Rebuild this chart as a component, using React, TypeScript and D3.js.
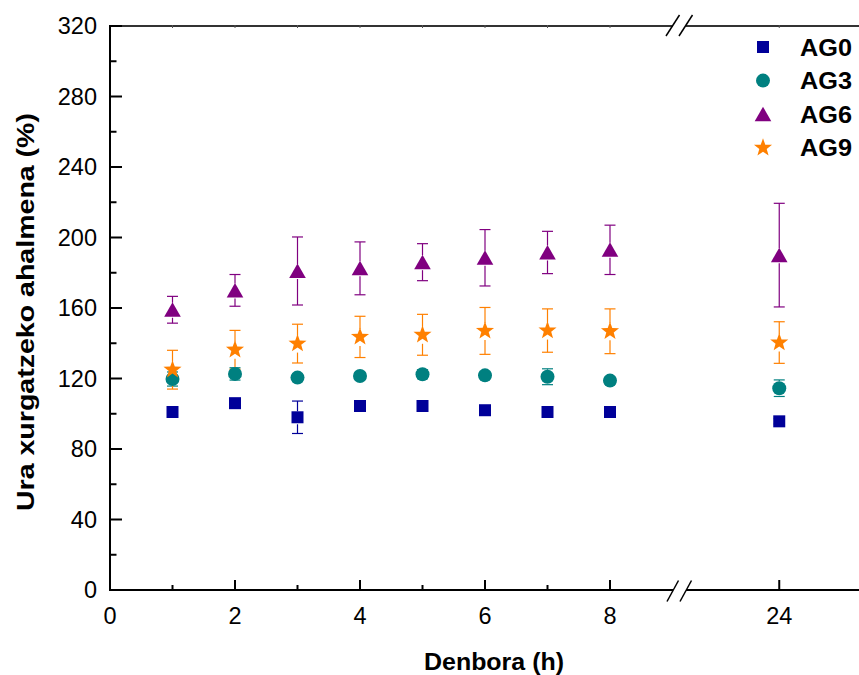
import React from "react";
import * as d3 from "d3";

const times = [1, 2, 3, 4, 5, 6, 7, 8, 24];
const seriesNames = ["AG0", "AG3", "AG6", "AG9"];
const ag0 = [101, 106, 98, 104.4, 104.4, 102, 101, 101, 95.7];
const ag0Err = [1.5, 1.5, 9.2, 1.5, 1.5, 1.5, 1.5, 1.5, 1.5];
const ag3 = [119.7, 122.6, 120.5, 121.4, 122.4, 121.8, 121, 118.8, 114.5];
const ag3Err = [4, 3.5, 2, 2, 2.5, 2, 4.5, 2, 4.7];
const ag6 = [159, 170, 181, 182.5, 186, 188.5, 191.5, 193, 190];
const ag6Err = [7.6, 9, 19.3, 15, 10.5, 16, 12, 14, 29.4];
const ag9 = [125, 136.3, 139.8, 143.6, 144.8, 147, 147.2, 146.8, 140.4];
const ag9Err = [11, 11, 11, 11.7, 11.6, 13.3, 12.3, 12.7, 11.8];
const colors = ["#000099", "#008080", "#800080", "#FF8000"];
const yTicks = [0, 40, 80, 120, 160, 200, 240, 280, 320];
const yMinor = [20, 60, 100, 140, 180, 220, 260, 300];
const xTicksLeft = [0, 2, 4, 6, 8];
const xMinorLeft = [1, 3, 5, 7];
const xTicksRight = [24];

const y = d3.scaleLinear().domain([0, 320]).range([590, 26]);
const xL = d3.scaleLinear().domain([0, 9]).range([110, 672.5]);
const xR = d3.scaleLinear().domain([22.5, 25.26]).range([685.5, 858]);
const xPos = (t: number) => (t <= 9 ? xL(t) : xR(t));

function markerPath(kind: number): string {
  if (kind === 0) {
    const s = 6;
    return `M${-s},${-s}H${s}V${s}H${-s}Z`;
  }
  if (kind === 1) {
    const r = 7;
    return `M${r},0A${r},${r} 0 1,1 ${-r},0A${r},${r} 0 1,1 ${r},0Z`;
  }
  if (kind === 2) {
    return `M0,-7.5L8.3,7L-8.3,7Z`;
  }
  const pts: string[] = [];
  const ro = 9.5, ri = 3.9;
  for (let i = 0; i < 10; i++) {
    const a = -Math.PI / 2 + (i * Math.PI) / 5;
    const r = i % 2 === 0 ? ro : ri;
    pts.push(`${(r * Math.cos(a)).toFixed(2)},${(r * Math.sin(a)).toFixed(2)}`);
  }
  return "M" + pts.join("L") + "Z";
}

const data = [
  { v: ag0, e: ag0Err },
  { v: ag3, e: ag3Err },
  { v: ag6, e: ag6Err },
  { v: ag9, e: ag9Err },
];

export default function App() {
  const font = "Arial, 'Liberation Sans', sans-serif";
  const half = [6, 7, 7, 8];
  return (
    <svg width={859} height={675} style={{ position: "absolute", left: 0, top: 0, background: "#fff" }}>
      <rect x={0} y={0} width={859} height={675} fill="#fff" />
      {/* top axis */}
      <line x1={110} x2={673} y1={26} y2={26} stroke="#333" strokeWidth={2} />
      <line x1={686} x2={859} y1={26} y2={26} stroke="#333" strokeWidth={2} />
      {[1, 2, 3, 4, 5, 6, 7, 8].map((t) => (
        <line key={"tt" + t} x1={xL(t)} x2={xL(t)} y1={25} y2={28} stroke="#555" strokeWidth={1} />
      ))}
      <line x1={xR(24)} x2={xR(24)} y1={25} y2={28} stroke="#555" strokeWidth={1} />
      {/* bottom axis */}
      <line x1={109} x2={673} y1={590} y2={590} stroke="#000" strokeWidth={2} />
      <line x1={686} x2={859} y1={590} y2={590} stroke="#000" strokeWidth={2} />
      {/* left axis */}
      <line x1={110} x2={110} y1={25} y2={591} stroke="#000" strokeWidth={2} />
      {/* break marks */}
      {[0, 13].map((dx) => (
        <g key={"bb" + dx}>
          <line x1={667 + dx} y1={601.5} x2={678.5 + dx} y2={580.5} stroke="#000" strokeWidth={1.5} />
          <line x1={666 + dx} y1={36} x2={679.5 + dx} y2={15} stroke="#000" strokeWidth={1.5} />
        </g>
      ))}
      {/* y ticks */}
      {yTicks.map((v) => (
        <g key={"yt" + v}>
          <line x1={110} x2={122} y1={y(v)} y2={y(v)} stroke="#000" strokeWidth={2} />
          <text x={97} y={y(v) + 8} textAnchor="end" fontSize={23.5} fontFamily={font} fill="#000">
            {v}
          </text>
        </g>
      ))}
      {yMinor.map((v) => (
        <line key={"ym" + v} x1={110} x2={116.5} y1={y(v)} y2={y(v)} stroke="#000" strokeWidth={2} />
      ))}
      {/* x ticks */}
      {xTicksLeft.map((t) => (
        <g key={"xt" + t}>
          <line x1={xL(t)} x2={xL(t)} y1={590} y2={580} stroke="#000" strokeWidth={2} />
          <text x={xL(t)} y={623.5} textAnchor="middle" fontSize={23.5} fontFamily={font} fill="#000">
            {t}
          </text>
        </g>
      ))}
      {xMinorLeft.map((t) => (
        <line key={"xm" + t} x1={xL(t)} x2={xL(t)} y1={590} y2={585} stroke="#000" strokeWidth={2} />
      ))}
      {xTicksRight.map((t) => (
        <g key={"xr" + t}>
          <line x1={xR(t)} x2={xR(t)} y1={590} y2={580} stroke="#000" strokeWidth={2} />
          <text x={xR(t)} y={623.5} textAnchor="middle" fontSize={23.5} fontFamily={font} fill="#000">
            {t}
          </text>
        </g>
      ))}
      {/* axis titles */}
      <text
        x={494}
        y={670}
        textAnchor="middle"
        fontSize={24}
        fontWeight="bold"
        fontFamily={font}
        fill="#000"
        textLength={140}
        lengthAdjust="spacingAndGlyphs"
      >
        Denbora (h)
      </text>
      <text
        transform="translate(34,312) rotate(-90)"
        textAnchor="middle"
        fontSize={24}
        fontWeight="bold"
        fontFamily={font}
        fill="#000"
        textLength={398}
        lengthAdjust="spacingAndGlyphs"
      >
        Ura xurgatzeko ahalmena (%)
      </text>
      {/* error bars */}
      {data.map((s, si) => (
        <g key={"eb" + si} stroke={colors[si]} strokeWidth={1.2} fill="none">
          {times.map((t, i) => {
            const cx = xPos(t);
            const cy = y(s.v[i]);
            const top = y(s.v[i] + s.e[i]);
            const bot = y(s.v[i] - s.e[i]);
            const h = half[si];
            return (
              <g key={i}>
                {cy - h > top && <line x1={cx} x2={cx} y1={top} y2={cy - h} />}
                {cy + h + 1 < bot && <line x1={cx} x2={cx} y1={cy + h + 1} y2={bot} />}
                <line x1={cx - 5.5} x2={cx + 5.5} y1={top} y2={top} />
                <line x1={cx - 5.5} x2={cx + 5.5} y1={bot} y2={bot} />
              </g>
            );
          })}
        </g>
      ))}
      {/* markers */}
      {data.map((s, si) => (
        <g key={"mk" + si} fill={colors[si]}>
          {times.map((t, i) => (
            <path key={i} d={markerPath(si)} transform={`translate(${xPos(t)},${y(s.v[i])})`} />
          ))}
        </g>
      ))}
      {/* legend */}
      {seriesNames.map((n, i) => {
        const ly = 47 + i * 33.6;
        return (
          <g key={"lg" + n}>
            <path d={markerPath(i)} transform={`translate(763,${ly})`} fill={colors[i]} />
            <text
              x={800}
              y={ly + 8.5}
              fontSize={24}
              fontWeight="bold"
              fontFamily={font}
              fill="#000"
              textLength={52}
              lengthAdjust="spacingAndGlyphs"
            >
              {n}
            </text>
          </g>
        );
      })}
    </svg>
  );
}
